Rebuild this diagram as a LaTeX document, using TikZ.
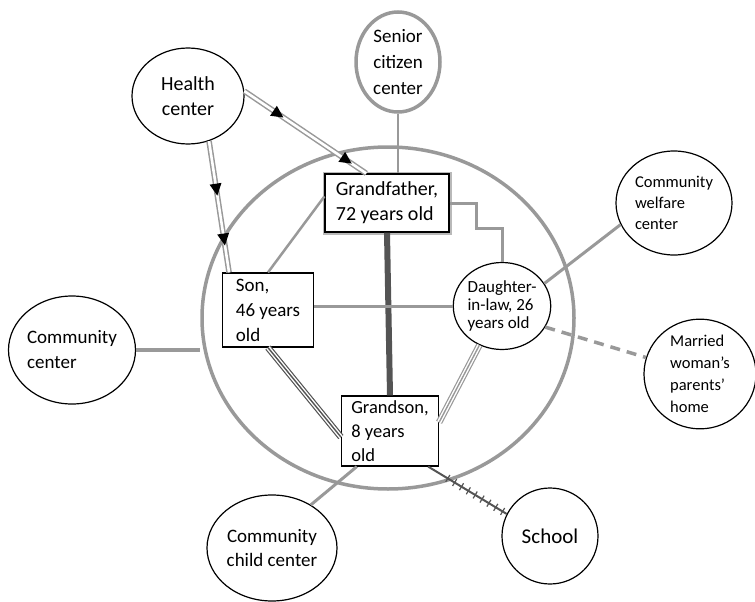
\documentclass[tikz,border=0pt]{standalone}
\usepackage{fontspec}
\setmainfont{Carlito}
\usetikzlibrary{shapes.geometric,decorations.markings}
\definecolor{linegray}{gray}{0.6}
\definecolor{darkline}{gray}{0.33}

\begin{document}
\begin{tikzpicture}[x=1pt, y=-1pt,
    place/.style={ellipse, draw, line width=1.2pt, inner sep=0pt, align=center},
    person/.style={draw, line width=1.2pt, inner sep=0pt, align=left, fill=white},
    tie/.style={draw=linegray, line width=3pt},
    triple/.style={draw=#1, line width=1.4pt,
        preaction={draw=#1, line width=6.6pt},
        preaction={draw=white, line width=4.2pt}},
    flow/.style 2 args={draw=linegray, line width=1.5pt, double=white, double distance=2.6pt,
        postaction={decorate, decoration={markings,
            mark=at position #1 with {\fill (6pt,0) -- (-6pt,6pt) -- (-6pt,-6pt) -- cycle;},
            mark=at position #2 with {\fill (6pt,0) -- (-6pt,6pt) -- (-6pt,-6pt) -- cycle;}}}},
    stress/.style={draw=darkline, line width=2pt,
        postaction={decorate, decoration={markings,
            mark=between positions 0.25 and 0.95 step 8pt with {\draw[line width=1.2pt] (0,-4pt) -- (0,4pt);}}}}]
    \useasboundingbox (0,0) rectangle (755,602);

    % the ecosystem circle round the family
    \node[ellipse, draw=linegray, line width=3.5pt, minimum width=372, minimum height=342] (eco) at (388,318) {};

    % the outside places
    \node[place, minimum width=84, minimum height=100, draw=linegray, line width=3.5pt,
        font=\fontsize{19}{26}\selectfont] (scc) at (398,62) {Senior\\citizen\\center};
    \node[place, minimum width=112, minimum height=96,
        font=\fontsize{20}{25}\selectfont] (hc) at (188,96) {Health\\center};
    \node[place, minimum width=116, minimum height=104, align=left,
        font=\fontsize{16.5}{21}\selectfont] (cwc) at (674,203) {Community\\welfare\\center};
    \node[place, minimum width=112, minimum height=108, align=left,
        font=\fontsize{16.5}{22}\selectfont] (mwh) at (700,374) {Married\\woman's\\parents'\\home};
    \node[place, minimum width=124, minimum height=108, align=left,
        font=\fontsize{19}{25}\selectfont] (cc) at (72,350) {Community\\center};
    \node[place, minimum width=130, minimum height=106,
        font=\fontsize{19}{24}\selectfont] (ccc) at (272,548) {Community\\child center};
    \node[place, minimum width=96, minimum height=96,
        font=\fontsize{21}{24}\selectfont] (school) at (550,536) {School};

    % the family members
    \node[person, minimum width=124, minimum height=58, preaction={draw=gray!55, line width=5pt},
        font=\fontsize{20}{25}\selectfont] (gf) at (387,203) {Grandfather,\\72 years old};
    \node[person, minimum width=91, minimum height=74,
        font=\fontsize{19}{25}\selectfont] (son) at (268,310) {Son,\\46 years\\old};
    \node[person, minimum width=97, minimum height=70,
        font=\fontsize{18.5}{24}\selectfont] (gs) at (390,431) {Grandson,\\8 years\\old};
    \node[place, minimum width=96, minimum height=87, align=left,
        font=\fontsize{17}{18}\selectfont] (dil) at (502,306) {Daughter-\\in-law, 26\\years old};

    % lines inside the family
    \draw[draw=darkline, line width=6pt] (gf.south) -- (gs.north);
    \draw[tie] (dil.west) -- (dil.west -| son.east);
    \draw[draw=linegray, line width=2.5pt] (son.north) -- (gf.174);
    \draw[tie] (gf.east) -- ++(27,0) -- ++(0,25) -| (dil.north);
    \draw[triple=darkline] (son.south) -- (gs.187);
    \draw[triple=linegray] (dil.240) -- (gs.10);

    % lines to the outside places
    \draw[draw=linegray, line width=2.5pt] (scc.south) -- (scc.south |- gf.north);
    \draw[flow={0.28}{0.84}] (hc.5) -- (gf.125);
    \draw[flow={0.37}{0.75}] (hc.-65) -- (son.136);
    \draw[tie] (dil.28) -- (cwc.202);
    \draw[tie, line width=3.5pt, dash pattern=on 10pt off 7pt] (dil.-26) -- (mwh.163);
    \draw[tie, line width=3.5pt] (cc.east) -- (cc.east -| eco.west);
    \draw[tie] (ccc.48) -- (gs.-133);
    \draw[stress] (gs.-43) -- (school.153);
\end{tikzpicture}
\end{document}
